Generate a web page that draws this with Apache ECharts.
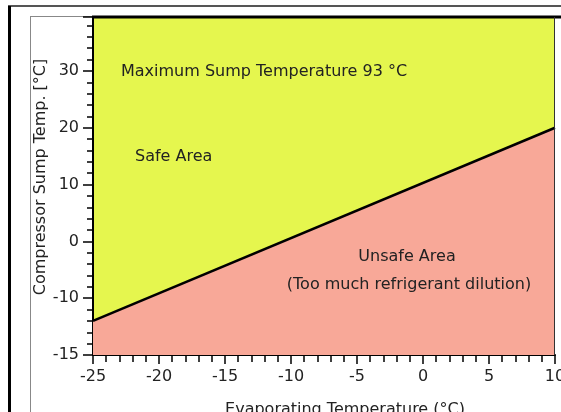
<!DOCTYPE html>
<html>
<head>
<meta charset="utf-8">
<script src="https://cdn.jsdelivr.net/npm/echarts@6/dist/echarts.min.js"></script>
<style>
  html, body { margin: 0; padding: 0; background: #fff; }
  #chart { width: 561px; height: 412px; }
</style>
</head>
<body>
<div id="chart"></div>
<script>
// boundary between safe and unsafe area
var evapTemp = [-25, 10];
var sumpLimit = [-14, 20];

// y tick labels as printed on the original (bottom one reads -15)
var yTickVals = [-20, -10, 0, 10, 20, 30];
var yTickText = ['-15', '-10', '0', '10', '20', '30'];

var areaNotes = [
    { text: 'Maximum Sump Temperature 93 \u00b0C', x: 121, y: 72, align: 'left' },
    { text: 'Safe Area', x: 135, y: 157, align: 'left' },
    { text: 'Unsafe Area', x: 407, y: 257, align: 'center' },
    { text: '(Too much refrigerant dilution)', x: 409, y: 285, align: 'center' }
];

var font = 'DejaVu Sans';
var yellow = '#e5f64e';
var pink = '#f8a898';

var chart = echarts.init(document.getElementById('chart'));

var graphics = [
    // window frame
    { type: 'line', shape: { x1: 8, y1: 6, x2: 561, y2: 6 }, style: { stroke: '#555', lineWidth: 2 } },
    { type: 'line', shape: { x1: 9.5, y1: 6, x2: 9.5, y2: 412 }, style: { stroke: '#000', lineWidth: 3 } },
    { type: 'line', shape: { x1: 30.5, y1: 16, x2: 30.5, y2: 412 }, style: { stroke: '#888', lineWidth: 1 } },
    { type: 'line', shape: { x1: 30, y1: 16.5, x2: 93, y2: 16.5 }, style: { stroke: '#888', lineWidth: 1 } },
    // plot top and right border
    { type: 'line', shape: { x1: 92, y1: 17, x2: 561, y2: 17 }, style: { stroke: '#000', lineWidth: 3 }, z: 10 },
    { type: 'line', shape: { x1: 554.5, y1: 17, x2: 554.5, y2: 355 }, style: { stroke: '#333', lineWidth: 1 }, z: 10 }
];

areaNotes.forEach(function (n) {
    graphics.push({
        type: 'text',
        x: n.x,
        y: n.y,
        z: 10,
        style: {
            text: n.text,
            fill: '#222',
            font: '16px "' + font + '"',
            textAlign: n.align,
            textVerticalAlign: 'middle'
        }
    });
});

var option = {
    animation: false,
    grid: {
        left: 93,
        right: 6,
        top: 17,
        bottom: 57,
        containLabel: false,
        outerBoundsMode: 'none',
        show: true,
        backgroundColor: yellow,
        borderWidth: 0
    },
    xAxis: {
        type: 'value',
        min: -25,
        max: 10,
        interval: 5,
        name: 'Evaporating Temperature (\u00b0C)',
        nameLocation: 'middle',
        nameGap: 47,
        nameMoveOverlap: false,
        nameTextStyle: { fontFamily: font, fontSize: 16, color: '#222', padding: [0, 0, 0, 42] },
        axisLine: { onZero: false, lineStyle: { color: '#000', width: 2 } },
        axisTick: { length: 9, lineStyle: { color: '#000', width: 1.5 } },
        minorTick: { show: true, splitNumber: 5, length: 7, lineStyle: { color: '#000', width: 1.5 } },
        axisLabel: { fontFamily: font, fontSize: 16, color: '#222', margin: 14 },
        splitLine: { show: false }
    },
    yAxis: {
        type: 'value',
        min: -20,
        max: 39.5,
        interval: 10,
        name: 'Compressor Sump Temp. [\u00b0C]',
        nameLocation: 'middle',
        nameGap: 44,
        nameMoveOverlap: false,
        nameTextStyle: { fontFamily: font, fontSize: 16, color: '#222', padding: [0, 0, 0, 18] },
        axisLine: { onZero: false, lineStyle: { color: '#000', width: 2 } },
        axisTick: { length: 10, lineStyle: { color: '#000', width: 1.5 } },
        minorTick: { show: true, splitNumber: 5, length: 6, lineStyle: { color: '#000', width: 1.5 } },
        axisLabel: {
            fontFamily: font, fontSize: 16, color: '#222', margin: 14,
            formatter: function (v) {
                var i = yTickVals.indexOf(v);
                return i < 0 ? '' : yTickText[i];
            }
        },
        splitLine: { show: false }
    },
    series: [{
        type: 'line',
        data: evapTemp.map(function (x, i) { return [x, sumpLimit[i]]; }),
        showSymbol: false,
        lineStyle: { color: '#000', width: 2.5 },
        areaStyle: { color: pink, opacity: 1, origin: 'start' },
        z: 2
    }],
    graphic: graphics
};

chart.setOption(option);
</script>
</body>
</html>
